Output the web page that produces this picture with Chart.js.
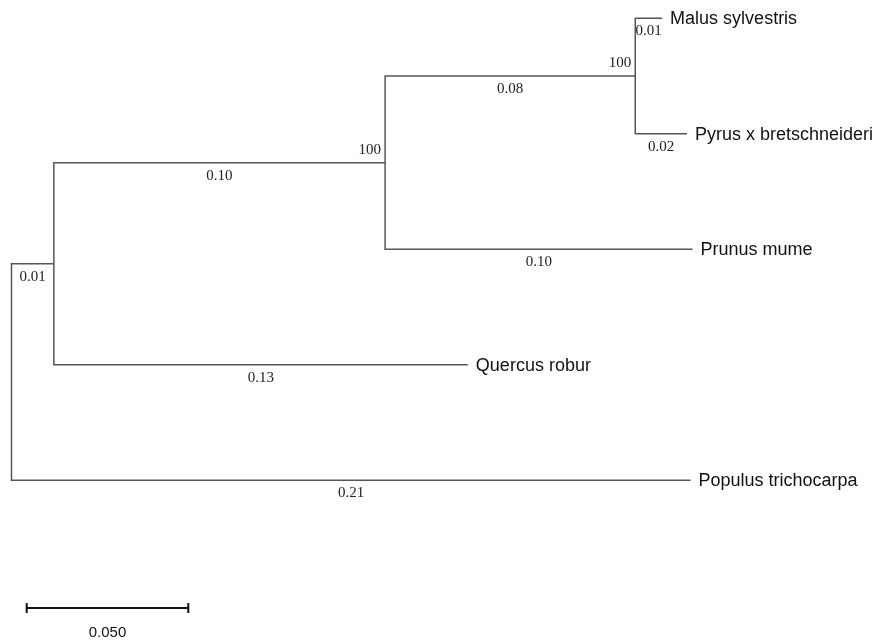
<!DOCTYPE html>
<html>
<head>
<meta charset="utf-8">
<script src="https://cdn.jsdelivr.net/npm/chart.js@4.4.1/dist/chart.umd.min.js"></script>
<style>
  html, body { margin: 0; padding: 0; background: #fff; }
  #wrap { width: 876px; height: 643px; position: relative; }
</style>
</head>
<body>
<div id="wrap"><canvas id="arbol"></canvas></div>
<script>
// nodos del arbol: raiz, A, B, C y las hojas
const nodos = ['raiz', 'A', 'B', 'C', 'Malus sylvestris', 'Pyrus x bretschneideri', 'Prunus mume', 'Quercus robur', 'Populus trichocarpa'];
const padres = [-1, 0, 1, 2, 3, 3, 2, 1, 0];
const longitudes = [0, 0.0131, 0.1025, 0.0774, 0.0083, 0.0160, 0.0951, 0.1281, 0.2101];
const etiquetasRama = ['', '0.01', '0.10', '0.08', '0.01', '0.02', '0.10', '0.13', '0.21'];
const bootstrap = ['', '', '100', '100', '', '', '', '', ''];
const ordenHojas = ['Malus sylvestris', 'Pyrus x bretschneideri', 'Prunus mume', 'Quercus robur', 'Populus trichocarpa'];
const escalaLongitud = 0.05;
const escalaTexto = '0.050';

// posiciones x (distancia acumulada) e y (orden de hojas)
const posX = [];
const posY = [];
nodos.forEach((n, i) => {
    posX[i] = padres[i] < 0 ? 0 : posX[padres[i]] + longitudes[i];
});
function calcularY(i) {
    if (posY[i] !== undefined) return posY[i];
    const hijos = padres.map((p, j) => p === i ? j : -1).filter(j => j >= 0);
    if (hijos.length === 0) {
        posY[i] = ordenHojas.indexOf(nodos[i]);
    } else {
        const ys = hijos.map(calcularY);
        posY[i] = (Math.min(...ys) + Math.max(...ys)) / 2;
    }
    return posY[i];
}
nodos.forEach((n, i) => calcularY(i));

// segmentos: rama horizontal de cada nodo y linea vertical de cada nodo interno
const segmentos = [];
nodos.forEach((n, i) => {
    const p = padres[i];
    if (p < 0) return;
    segmentos.push({x: posX[p], y: posY[p]}, {x: posX[p], y: posY[i]}, {x: posX[i], y: posY[i]}, {x: NaN, y: NaN});
});

const yBarra = 5.107;

const textos = {
    id: 'textos',
    afterDatasetsDraw(chart) {
        const ctx = chart.ctx;
        const sx = chart.scales.x;
        const sy = chart.scales.y;
        ctx.save();
        nodos.forEach((n, i) => {
            const p = padres[i];
            const y = sy.getPixelForValue(posY[i]);
            const x = sx.getPixelForValue(posX[i]);
            if (p >= 0) {
                const xp = sx.getPixelForValue(posX[p]);
                ctx.font = '15px "Liberation Serif", "DejaVu Serif", serif';
                ctx.fillStyle = '#222';
                ctx.textAlign = 'center';
                ctx.textBaseline = 'middle';
                ctx.fillText(etiquetasRama[i], (xp + x) / 2, y + 13);
            }
            if (bootstrap[i]) {
                ctx.font = '15px "Liberation Serif", "DejaVu Serif", serif';
                ctx.textAlign = 'right';
                ctx.textBaseline = 'middle';
                ctx.fillText(bootstrap[i], x - 4, y - 13);
            }
            if (ordenHojas.includes(n)) {
                ctx.font = '18px "Liberation Sans", Arial, sans-serif';
                ctx.fillStyle = '#111';
                ctx.textAlign = 'left';
                ctx.textBaseline = 'middle';
                ctx.fillText(n, x + 8, y + 1);
            }
        });
        ctx.font = '15px "Liberation Sans", Arial, sans-serif';
        ctx.fillStyle = '#111';
        ctx.textAlign = 'center';
        ctx.textBaseline = 'middle';
        const xb = sx.getPixelForValue(0.0047 + escalaLongitud / 2);
        ctx.fillText(escalaTexto, xb, sy.getPixelForValue(yBarra) + 25);
        ctx.restore();
    }
};

new Chart(document.getElementById('arbol'), {
    type: 'scatter',
    data: {
        datasets: [{
            data: segmentos,
            showLine: true,
            spanGaps: false,
            borderColor: '#555',
            borderWidth: 1.5,
            pointRadius: 0,
            clip: false
        }, {
            data: [{x: 0.0047, y: yBarra}, {x: 0.0047 + escalaLongitud, y: yBarra}],
            showLine: true,
            borderColor: '#111',
            borderWidth: 2,
            pointStyle: 'line',
            pointRotation: 90,
            pointRadius: 5,
            pointBorderColor: '#111',
            pointBorderWidth: 2,
            clip: false
        }]
    },
    options: {
        responsive: true,
        maintainAspectRatio: false,
        animation: false,
        events: [],
        layout: { autoPadding: false, padding: { left: 11.5, top: 18.3, right: 0, bottom: 1.1 } },
        plugins: { legend: { display: false }, tooltip: { enabled: false } },
        scales: {
            x: { type: 'linear', display: false, min: 0, max: 864.5 / 3232 },
            y: { type: 'linear', display: false, min: 0, max: 5.4, reverse: true }
        }
    },
    plugins: [textos]
});
</script>
</body>
</html>
